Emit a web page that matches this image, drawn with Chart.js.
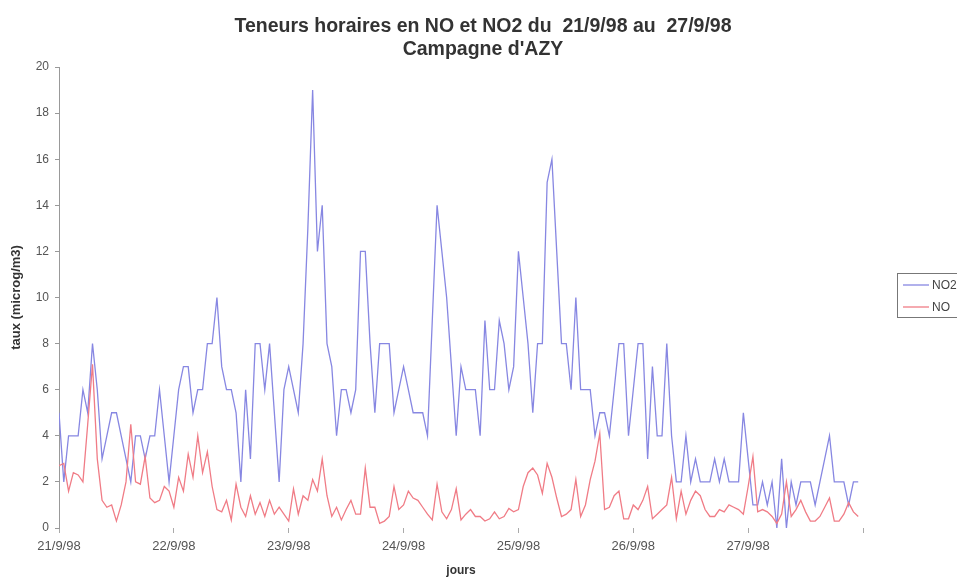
<!DOCTYPE html>
<html lang="fr">
<head>
<meta charset="utf-8">
<title>Teneurs horaires en NO et NO2 - Campagne d'AZY</title>
<script src="https://cdn.jsdelivr.net/npm/chart.js"></script>
<style>
  body { margin: 0; background: #fff; }
  #wrap { width: 957px; height: 577px; }
</style>
</head>
<body>
<div id="wrap"><canvas id="myChart" width="957" height="577"></canvas></div>

<script>
// jours (une graduation toutes les 24 heures)
const jours = ['21/9/98', '22/9/98', '23/9/98', '24/9/98', '25/9/98', '26/9/98', '27/9/98'];

// teneurs horaires NO2 (microg/m3), 168 heures
const no2 = [
    5, 2, 4, 4, 4, 6, 5, 8, 6, 3, 4, 5, 5, 4, 3, 2, 4, 4, 3, 4, 4, 6, 4, 2,
    4, 6, 7, 7, 5, 6, 6, 8, 8, 10, 7, 6, 6, 5, 2, 6, 3, 8, 8, 6, 8, 5, 2, 6,
    7, 6, 5, 8, 13, 19, 12, 14, 8, 7, 4, 6, 6, 5, 6, 12, 12, 8, 5, 8, 8, 8, 5, 6,
    7, 6, 5, 5, 5, 4, 9, 14, 12, 10, 7, 4, 7, 6, 6, 6, 4, 9, 6, 6, 9, 8, 6, 7,
    12, 10, 8, 5, 8, 8, 15, 16, 12, 8, 8, 6, 10, 6, 6, 6, 4, 5, 5, 4, 6, 8, 8, 4,
    6, 8, 8, 3, 7, 4, 4, 8, 4, 2, 2, 4, 2, 3, 2, 2, 2, 3, 2, 3, 2, 2, 2, 5,
    3, 1, 1, 2, 1, 2, 0, 3, 0, 2, 1, 2, 2, 2, 1, 2, 3, 4, 2, 2, 2, 1, 2, 2
];

// teneurs horaires NO (microg/m3)
const no = [
    2.7, 2.8, 1.6, 2.4, 2.3, 2.0, 4.5, 7.1, 3.0, 1.2, 0.9, 1.0, 0.3, 1.0, 2.0, 4.5, 2.0, 1.9, 3.1, 1.3, 1.1, 1.2, 1.8, 1.6,
    0.9, 2.2, 1.6, 3.2, 2.2, 4.0, 2.4, 3.3, 1.8, 0.8, 0.7, 1.2, 0.35, 1.9, 0.9, 0.5, 1.4, 0.6, 1.1, 0.5, 1.2, 0.6, 0.9, 0.6,
    0.3, 1.7, 0.6, 1.4, 1.2, 2.1, 1.6, 3.0, 1.4, 0.5, 0.9, 0.35, 0.8, 1.2, 0.6, 0.6, 2.6, 0.9, 0.9, 0.2, 0.3, 0.5, 1.8, 0.8,
    1.0, 1.6, 1.3, 1.2, 0.9, 0.6, 0.35, 1.9, 0.7, 0.4, 0.8, 1.7, 0.35, 0.6, 0.8, 0.5, 0.5, 0.3, 0.4, 0.7, 0.4, 0.5, 0.85, 0.7,
    0.8, 1.8, 2.4, 2.6, 2.3, 1.5, 2.8, 2.2, 1.3, 0.5, 0.6, 0.8, 2.1, 0.5, 1.0, 2.1, 2.9, 4.1, 0.8, 0.9, 1.4, 1.6, 0.4, 0.4,
    1.0, 0.8, 1.2, 1.8, 0.4, 0.6, 0.8, 1.0, 2.2, 0.4, 1.6, 0.6, 1.2, 1.6, 1.4, 0.8, 0.5, 0.5, 0.8, 0.7, 1.0, 0.9, 0.8, 0.6,
    1.8, 3.1, 0.7, 0.8, 0.7, 0.5, 0.2, 0.6, 2.0, 0.5, 0.8, 1.2, 0.7, 0.3, 0.3, 0.5, 0.9, 1.3, 0.3, 0.3, 0.6, 1.1, 0.7, 0.5
];

const titre = ['Teneurs horaires en NO et NO2 du  21/9/98 au  27/9/98', "Campagne d'AZY"];

const bleu = '#8787e2';
const rouge = '#f07c86';
const police = '"Liberation Sans", Arial, sans-serif';

// titre centré sur toute la figure + légende encadrée, comme dans l'original
const habillage = {
    id: 'habillage',
    afterDraw(chart) {
        const ctx = chart.ctx;
        ctx.save();

        ctx.fillStyle = '#333';
        ctx.font = 'bold 19.5px ' + police;
        ctx.textAlign = 'center';
        ctx.textBaseline = 'alphabetic';
        ctx.fillText(titre[0], 483, 32);
        ctx.fillText(titre[1], 483, 55);

        ctx.strokeStyle = '#777';
        ctx.lineWidth = 1;
        ctx.strokeRect(897.5, 273.5, 80, 44);
        const items = [['NO2', bleu, 285], ['NO', rouge, 307]];
        ctx.font = '12px ' + police;
        ctx.textAlign = 'left';
        ctx.textBaseline = 'middle';
        items.forEach(function (it) {
            ctx.strokeStyle = it[1];
            ctx.lineWidth = 1.3;
            ctx.beginPath();
            ctx.moveTo(903, it[2]);
            ctx.lineTo(929, it[2]);
            ctx.stroke();
            ctx.fillStyle = '#444';
            ctx.fillText(it[0], 932, it[2] + 1);
        });
        ctx.restore();
    }
};

const config = {
    type: 'line',
    data: {
        datasets: [{
            label: 'NO2',
            data: no2.map((v, i) => ({ x: i, y: v })),
            borderColor: bleu,
            borderWidth: 1.3,
            pointRadius: 0,
            tension: 0,
            order: 1
        }, {
            label: 'NO',
            data: no.map((v, i) => ({ x: i, y: v })),
            borderColor: rouge,
            borderWidth: 1.3,
            pointRadius: 0,
            tension: 0,
            order: 0
        }]
    },
    options: {
        responsive: false,
        animation: false,
        layout: { padding: { left: 0, right: 94, top: 67, bottom: 0 } },
        plugins: {
            legend: { display: false },
            tooltip: { enabled: false },
            title: { display: false }
        },
        scales: {
            x: {
                type: 'linear',
                min: 0,
                max: 168,
                afterFit: function (scale) { scale.height = 49; },
                border: { display: false },
                grid: { drawOnChartArea: false, tickLength: 5, color: '#aaa' },
                ticks: {
                    stepSize: 24,
                    autoSkip: false,
                    maxRotation: 0,
                    padding: 6,
                    color: '#555',
                    font: { family: police, size: 13 },
                    callback: function (value) { return jours[value / 24] || ''; }
                },
                title: {
                    display: true,
                    text: 'jours',
                    color: '#333',
                    font: { family: police, size: 12, weight: 'bold', lineHeight: 1 },
                    padding: { top: 0, bottom: 0 }
                }
            },
            y: {
                min: 0,
                max: 20,
                afterFit: function (scale) { scale.width = 59; },
                border: { display: true, color: '#999' },
                grid: { drawOnChartArea: false, tickLength: 4, color: '#999' },
                ticks: {
                    stepSize: 2,
                    padding: 6,
                    color: '#555',
                    font: { family: police, size: 12 }
                },
                title: {
                    display: true,
                    text: 'taux (microg/m3)',
                    color: '#333',
                    font: { family: police, size: 13, weight: 'bold', lineHeight: 1.2 },
                    padding: { top: 9, bottom: 0 }
                }
            }
        }
    },
    plugins: [habillage]
};

const myChart = new Chart(document.getElementById('myChart'), config);
</script>
</body>
</html>
